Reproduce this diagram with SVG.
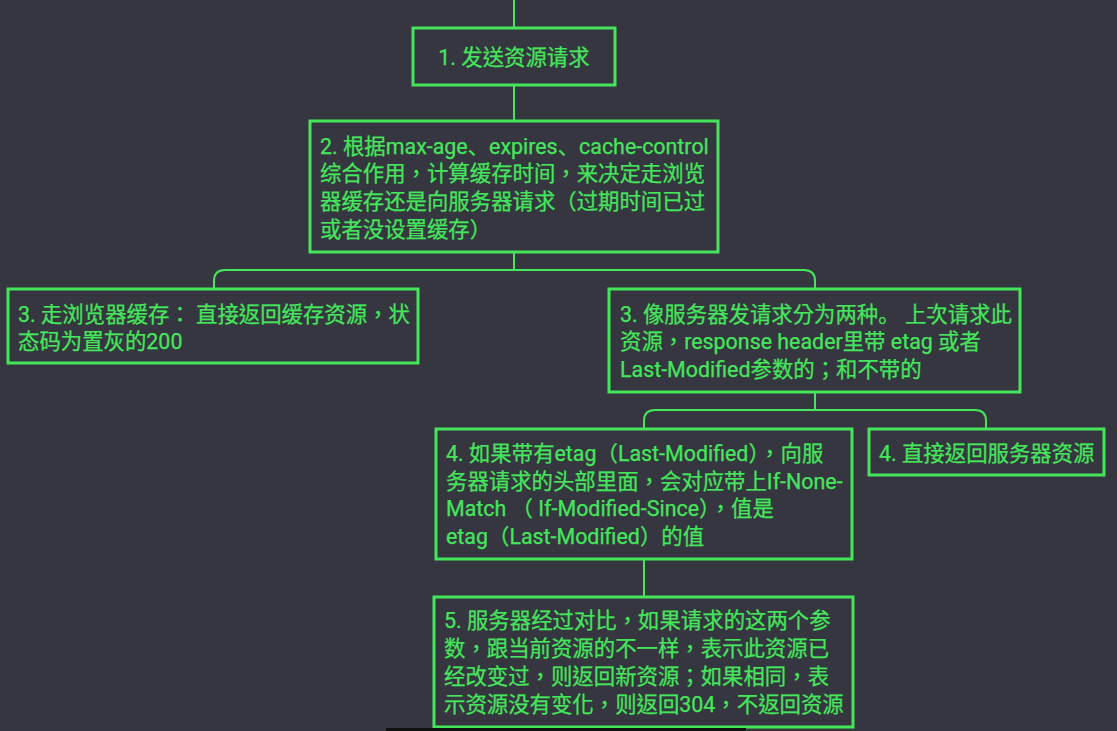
<svg xmlns="http://www.w3.org/2000/svg" width="1117" height="731" viewBox="0 0 1117 731">
<style>
.bg{fill:#35363f}
.box{fill:#35363f;stroke:#45e65c;stroke-width:3}
.link{fill:none;stroke:#45e65c;stroke-width:2}
text{font-family:Roboto,"Noto Sans CJK TC",sans-serif;font-size:21.4px;fill:#45e65c;stroke:#45e65c;stroke-width:0.25}
.sc{font-family:"Noto Sans CJK SC",sans-serif}
</style>
<rect class="bg" x="0" y="0" width="1117" height="731"/>
<g id="connectors">
<path class="link" d="M514 0V28"/>
<path class="link" d="M514 85V121"/>
<path class="link" d="M514 252V270"/>
<path class="link" d="M214 289V281Q214 270 225 270H804Q815 270 815 281V289"/>
<path class="link" d="M815 392V410"/>
<path class="link" d="M644 429V421Q644 410 655 410H975Q986 410 986 421V429"/>
<path class="link" d="M644 559V597"/>
</g>
<g id="node1">
<rect class="box" x="413" y="28" width="202" height="57"/>
<text x="514" y="65" text-anchor="middle">1. 发送资源请求</text>
</g>
<g id="node2">
<rect class="box" x="310" y="121" width="408" height="131"/>
<text x="320" y="154">2. 根据max-age<tspan class="sc">、</tspan>expires<tspan class="sc">、</tspan>cache-control</text>
<text x="320" y="181">综合作用，计算缓存时间，来决定走浏览</text>
<text x="320" y="209">器缓存还是向服务器请求（过期时间已过</text>
<text x="320" y="237">或者没设置缓存）</text>
</g>
<g id="node3a">
<rect class="box" x="8" y="289" width="410" height="74"/>
<text x="18" y="322">3. 走浏览器缓存： 直接返回缓存资源，状</text>
<text x="18" y="349">态码为置灰的200</text>
</g>
<g id="node3b">
<rect class="box" x="609" y="289" width="411" height="103"/>
<text x="620" y="322">3. 像服务器发请求分为两种<tspan class="sc">。</tspan> 上次请求此</text>
<text x="620" y="349">资源，response header里带 etag 或者</text>
<text x="620" y="377">Last-Modified参数的；和不带的</text>
</g>
<g id="node4a">
<rect class="box" x="436" y="429" width="416" height="130"/>
<text x="446" y="461">4. 如果带有etag（Last-Modified），向服</text>
<text x="446" y="489">务器请求的头部里面，会对应带上If-None-</text>
<text x="446" y="516">Match （ If-Modified-Since），值是</text>
<text x="446" y="544">etag（Last-Modified）的值</text>
</g>
<g id="node4b">
<rect class="box" x="869" y="429" width="235" height="46"/>
<text x="879" y="461">4. 直接返回服务器资源</text>
</g>
<g id="node5">
<rect class="box" x="434" y="597" width="419" height="130"/>
<text x="444" y="628">5. 服务器经过对比，如果请求的这两个参</text>
<text x="444" y="656">数，跟当前资源的不一样，表示此资源已</text>
<text x="444" y="684">经改变过，则返回新资源；如果相同，表</text>
<text x="444" y="712">示资源没有变化，则返回304，不返回资源</text>
</g>
<rect x="386" y="728" width="360" height="3" fill="#111111"/>
</svg>
